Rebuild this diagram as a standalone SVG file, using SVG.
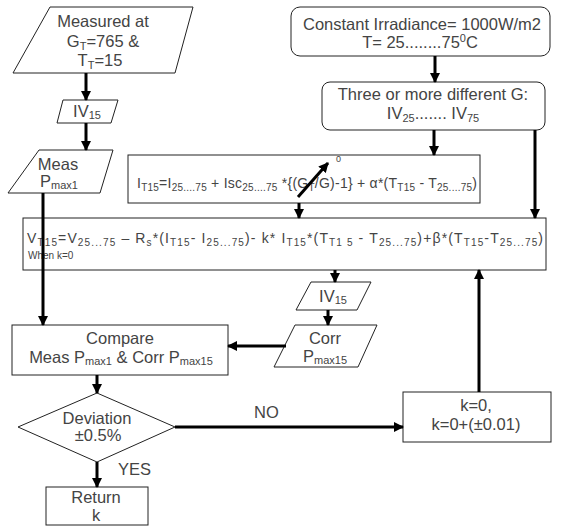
<svg xmlns="http://www.w3.org/2000/svg" width="562" height="527" viewBox="0 0 562 527">
<defs>
<marker id="ah" markerUnits="userSpaceOnUse" markerWidth="10" markerHeight="10" refX="9" refY="5" orient="auto">
<path d="M0,0 L10,5 L0,10 z" fill="#000"/>
</marker>
<style>
.b{fill:#fff;stroke:#222;stroke-width:1}
.t{font-family:"Liberation Sans",Arial,sans-serif;font-size:16.5px;fill:#444}
.f{font-family:"Liberation Sans",Arial,sans-serif;font-size:14px;fill:#444}
.c{text-anchor:middle}
.s{font-size:11px}
.fs{font-size:10px}
.cn line{stroke:#000;stroke-width:3;fill:none}
</style>
</defs>
<rect width="562" height="527" fill="#fff"/>
<g id="measured">
<polygon class="b" points="50,7 193,7 175,73 13,73"/>
<text class="t c" x="103" y="27">Measured at</text>
<text class="t c" x="103" y="47">G<tspan class="s" dy="3">T</tspan><tspan dy="-3">=765 &amp;</tspan></text>
<text class="t c" x="100" y="66">T<tspan class="s" dy="3">T</tspan><tspan dy="-3">=15</tspan></text>
</g>
<g id="iv15a">
<polygon class="b" points="63,100 118,100 111,123 57,123"/>
<text class="t c" x="87" y="117">IV<tspan class="s" dy="2">15</tspan></text>
</g>
<g id="measpmax">
<polygon class="b" points="39,150 113,150 100,193 8,193"/>
<text class="t c" x="58" y="170">Meas</text>
<text class="t c" x="59" y="187">P<tspan class="s" dy="2">max1</tspan></text>
</g>
<g id="constant">
<rect class="b" x="291" y="7" width="259" height="49" rx="9"/>
<text class="t c" x="422" y="30">Constant Irradiance= 1000W/m2</text>
<text class="t c" x="420" y="48">T= 25........75<tspan class="s" dy="-6">0</tspan><tspan dy="6">C</tspan></text>
</g>
<g id="three">
<rect class="b" x="322" y="82" width="223" height="48" rx="8"/>
<text class="t c" x="433" y="100">Three or more different G:</text>
<text class="t c" x="433" y="119">IV<tspan class="s" dy="3">25</tspan><tspan dy="-3">....... IV</tspan><tspan class="s" dy="3">75</tspan></text>
</g>
<g id="ieq">
<rect class="b" x="128" y="155" width="352" height="48"/>
<text class="f" x="137" y="188" textLength="340" lengthAdjust="spacing">I<tspan class="fs" dy="3">T15</tspan><tspan dy="-3">=I</tspan><tspan class="fs" dy="3">25....75</tspan><tspan dy="-3"> + Isc</tspan><tspan class="fs" dy="3">25....75</tspan><tspan dy="-3"> *{(G</tspan><tspan class="fs" dy="3">T</tspan><tspan dy="-3">/G)-1} + α*(T</tspan><tspan class="fs" dy="3">T15</tspan><tspan dy="-3"> - T</tspan><tspan class="fs" dy="3">25....75</tspan><tspan dy="-3">)</tspan></text>
<text class="f" x="336" y="162" style="font-size:9px">0</text>
</g>
<g id="veq">
<rect class="b" x="23" y="218" width="523" height="52"/>
<text class="f" x="27" y="243" textLength="516" lengthAdjust="spacing">V<tspan class="fs" dy="3">T15</tspan><tspan dy="-3">=V</tspan><tspan class="fs" dy="3">25...75</tspan><tspan dy="-3"> – R</tspan><tspan class="fs" dy="3">s</tspan><tspan dy="-3">*(I</tspan><tspan class="fs" dy="3">T15</tspan><tspan dy="-3">- I</tspan><tspan class="fs" dy="3">25...75</tspan><tspan dy="-3">)- k* I</tspan><tspan class="fs" dy="3">T15</tspan><tspan dy="-3">*(T</tspan><tspan class="fs" dy="3">T1 5</tspan><tspan dy="-3"> - T</tspan><tspan class="fs" dy="3">25...75</tspan><tspan dy="-3">)+β*(T</tspan><tspan class="fs" dy="3">T15</tspan><tspan dy="-3">-T</tspan><tspan class="fs" dy="3">25...75</tspan><tspan dy="-3">)</tspan></text>
<text class="f" x="28" y="259" style="font-size:10px">When k=0</text>
</g>
<g id="iv15b">
<polygon class="b" points="311,282 371,282 357,310 296,310"/>
<text class="t c" x="333" y="302">IV<tspan class="s" dy="2">15</tspan></text>
</g>
<g id="corr">
<polygon class="b" points="295,325 377,325 358,367 274,367"/>
<text class="t c" x="325" y="344">Corr</text>
<text class="t c" x="325" y="362">P<tspan class="s" dy="2">max15</tspan></text>
</g>
<g id="compare">
<rect class="b" x="12" y="325" width="216" height="50"/>
<text class="t c" x="120" y="344">Compare</text>
<text class="t c" x="121" y="363">Meas P<tspan class="s" dy="2">max1</tspan><tspan dy="-2"> &amp; Corr P</tspan><tspan class="s" dy="2">max15</tspan></text>
</g>
<g id="deviation">
<polygon class="b" points="97,393 175,427 97,462 18,427"/>
<text class="t c" x="97" y="424">Deviation</text>
<text class="t c" x="98" y="441">±0.5%</text>
</g>
<g id="return">
<rect class="b" x="46" y="487" width="102" height="38"/>
<text class="t c" x="96" y="503">Return</text>
<text class="t c" x="96" y="521">k</text>
</g>
<g id="kbox">
<rect class="b" x="403" y="392" width="148" height="50"/>
<text class="t c" x="476" y="411">k=0,</text>
<text class="t c" x="476" y="430">k=0+(±0.01)</text>
</g>
<g id="connectors" class="cn">
<line x1="86" y1="73" x2="86" y2="100" marker-end="url(#ah)"/>
<line x1="86" y1="123" x2="86" y2="150" marker-end="url(#ah)"/>
<line x1="43" y1="193" x2="43" y2="325" marker-end="url(#ah)"/>
<line x1="97" y1="375" x2="97" y2="393" marker-end="url(#ah)"/>
<line x1="97" y1="462" x2="97" y2="487" marker-end="url(#ah)"/>
<line x1="175" y1="427" x2="403" y2="427" marker-end="url(#ah)"/>
<line x1="479" y1="392" x2="479" y2="270" marker-end="url(#ah)"/>
<line x1="435" y1="56" x2="435" y2="82" marker-end="url(#ah)"/>
<line x1="434" y1="130" x2="434" y2="155" marker-end="url(#ah)"/>
<line x1="535" y1="130" x2="535" y2="218" marker-end="url(#ah)"/>
<line x1="299" y1="203" x2="299" y2="218" marker-end="url(#ah)"/>
<line x1="298" y1="197" x2="328" y2="163" marker-end="url(#ah)"/>
<line x1="335" y1="270" x2="335" y2="282" marker-end="url(#ah)"/>
<line x1="328" y1="310" x2="328" y2="325" marker-end="url(#ah)"/>
<line x1="286" y1="346" x2="228" y2="346" marker-end="url(#ah)"/>
<text class="t" x="254" y="418">NO</text>
<text class="t" x="118" y="475">YES</text>
</g>
</svg>
